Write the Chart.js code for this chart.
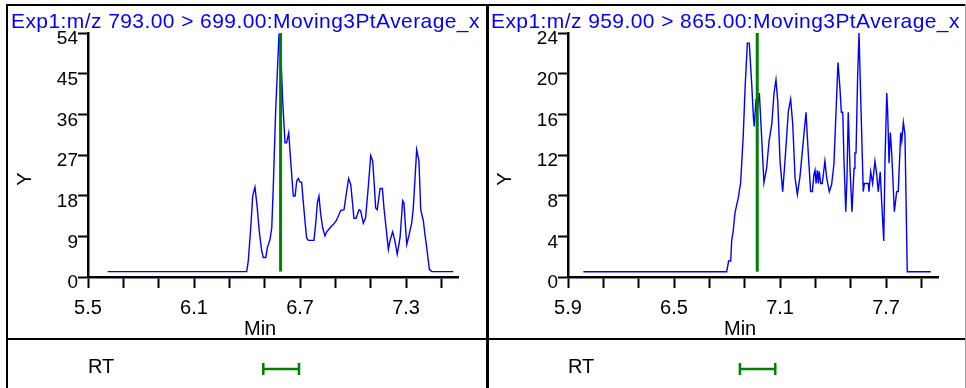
<!DOCTYPE html>
<html><head><meta charset="utf-8">
<script src="https://cdn.jsdelivr.net/npm/chart.js@4/dist/chart.umd.min.js"></script>
<style>
html,body{margin:0;padding:0;background:#fff}
body{width:966px;height:388px;position:relative;overflow:hidden;font-family:"Liberation Sans",Arial,sans-serif}
canvas{position:absolute;top:0;z-index:1}
.ln{position:absolute;background:#000;z-index:3}
.txt{position:absolute;white-space:nowrap;z-index:2;color:#000}
.title{color:#0000ff;font-size:21px;line-height:24px;top:9px;letter-spacing:0.42px}
.min{font-size:20px;line-height:24px;top:316px}
.rt{font-size:20px;line-height:24px;top:354px}
.ylab{font-size:20px;line-height:20px;width:20px;height:20px;text-align:center;top:169px;transform:rotate(-90deg)}
</style>
</head><body>
<canvas id="c1" width="486" height="388" style="left:0px"></canvas>
<canvas id="c2" width="486" height="388" style="left:480px"></canvas>

<div class="txt title" id="t1" style="left:11px"></div>
<div class="txt title" id="t2" style="left:491px"></div>
<div class="txt ylab" style="left:14px">Y</div>
<div class="txt ylab" style="left:494px">Y</div>
<div class="txt min" style="left:244px">Min</div>
<div class="txt min" style="left:724px">Min</div>
<div class="txt rt" style="left:88px">RT</div>
<div class="txt rt" style="left:568px">RT</div>

<div class="ln" style="left:6px;top:4px;width:960px;height:2px"></div>
<div class="ln" style="left:6px;top:4px;width:2px;height:384px"></div>
<div class="ln" style="left:486px;top:4px;width:3px;height:384px"></div>
<div class="ln" style="left:6px;top:338px;width:960px;height:2px"></div>
<div class="ln" style="left:965px;top:4px;width:1px;height:384px;background:#999"></div>

<script>
// ---- data ----
const panelTitles = [
  "Exp1:m/z 793.00 > 699.00:Moving3PtAverage_x",
  "Exp1:m/z 959.00 > 865.00:Moving3PtAverage_x"
];

const leftTimes = [5.611,6.398,6.407,6.421,6.432,6.445,6.458,6.469,6.483,6.492,6.506,6.515,6.530,6.540,6.549,6.562,6.581,6.590,6.602,6.615,6.624,6.636,6.647,6.662,6.672,6.681,6.690,6.700,6.709,6.718,6.728,6.737,6.747,6.779,6.790,6.798,6.807,6.817,6.828,6.841,6.851,6.870,6.888,6.904,6.917,6.930,6.949,6.964,6.975,6.987,6.996,7.005,7.017,7.034,7.043,7.058,7.071,7.086,7.100,7.111,7.120,7.128,7.137,7.153,7.166,7.175,7.185,7.200,7.209,7.224,7.237,7.250,7.266,7.281,7.288,7.296,7.304,7.317,7.332,7.341,7.351,7.360,7.373,7.383,7.398,7.407,7.417,7.432,7.445,7.567];
const leftValues = [1.2,1.2,3.5,10.9,17.9,19.9,15.3,10.2,5.8,4.3,4.3,6.5,8.3,10.9,20.5,36.7,53.8,50.7,38.9,29.7,29.7,31.9,25.7,17.9,17.9,21.2,21.8,21.0,21.0,16.8,12.4,8.7,8.1,8.1,12.4,16.4,17.9,13.9,10.9,9.1,10.0,10.9,11.6,12.4,13.5,14.7,14.9,19.0,21.8,20.5,16.8,13.0,13.0,14.9,14.7,11.9,13.1,19.8,26.9,25.7,20.5,15.3,14.9,19.6,19.6,15.3,11.6,6.1,8.0,10.0,8.0,5.0,8.7,16.9,16.4,11.6,7.2,9.3,12.0,15.3,22.0,28.2,25.7,14.9,12.4,9.4,6.5,1.7,1.2,1.2];

const rightTimes = [5.987,6.798,6.809,6.821,6.826,6.835,6.845,6.864,6.877,6.892,6.903,6.915,6.926,6.940,6.949,6.954,6.964,6.971,6.983,6.996,7.009,7.024,7.038,7.053,7.066,7.077,7.087,7.100,7.115,7.128,7.147,7.160,7.172,7.185,7.198,7.213,7.228,7.247,7.260,7.273,7.283,7.292,7.298,7.304,7.311,7.317,7.322,7.330,7.339,7.354,7.364,7.379,7.392,7.405,7.417,7.428,7.439,7.447,7.455,7.462,7.472,7.479,7.486,7.496,7.507,7.519,7.524,7.530,7.539,7.547,7.556,7.571,7.577,7.600,7.603,7.613,7.624,7.637,7.647,7.656,7.667,7.675,7.687,7.694,7.704,7.709,7.717,7.724,7.732,7.747,7.760,7.769,7.783,7.789,7.798,7.807,7.820,7.953];
const rightValues = [0.52,0.52,1.57,1.57,3.54,4.52,6.32,7.8,9.27,14.0,18.9,23.0,23.0,18.9,15.8,14.8,17.5,16.3,18.1,13.7,9.27,10.7,13.4,15.0,18.1,19.4,17.3,11.4,8.4,11.4,16.3,17.5,15.0,9.76,8.12,9.9,12.7,16.2,12.1,8.4,8.4,10.1,10.5,9.2,10.5,9.2,10.4,9.2,9.2,11.4,9.76,8.4,9.1,11.1,16.3,21.1,18.6,16.2,16.2,11.4,6.42,9.76,16.2,10.7,6.42,10.7,12.2,12.2,19.6,24.0,18.0,8.4,9.2,9.2,8.4,10.35,9.2,11.4,10.1,8.4,10.35,7.47,3.54,11.4,18.1,16.3,11.2,14.2,12.2,6.42,8.4,8.4,14.2,13.4,15.2,14.0,0.52,0.52];

const leftXTicks = [5.5,5.7,5.9,6.1,6.3,6.5,6.7,6.9,7.1,7.3,7.5];
const leftXTickLabels = ["5.5","","","6.1","","","6.7","","","7.3",""];
const rightXTicks = [5.9,6.1,6.3,6.5,6.7,6.9,7.1,7.3,7.5,7.7,7.9];
const rightXTickLabels = ["5.9","","","6.5","","","7.1","","","7.7",""];
const xRanges = [[5.5,7.594],[5.9,7.994]];

const leftYTicks = [0,9,18,27,36,45,54];
const leftYTickLabels = ["0","9","18","27","36","45","54"];
const rightYTicks = [0,4,8,12,16,20,24];
const rightYTickLabels = ["0","4","8","12","16","20","24"];

const rtTimes = [6.590,6.971];       // retention time marker (green line)
const rtMarkerBottom = [1.2,0.52];   // marker starts at the baseline
const rtWindowLow = [6.492,6.873];
const rtWindowHigh = [6.694,7.073];

// ---- drawing ----
const FONT = '"Liberation Sans", Arial, sans-serif';
document.getElementById('t1').textContent = panelTitles[0];
document.getElementById('t2').textContent = panelTitles[1];

const rtPlugin = {
  id: 'rtRow',
  afterDraw(chart, args, opts) {
    const xs = chart.scales.x, c = chart.ctx;
    const x1 = xs.getPixelForValue(opts.lo), x2 = xs.getPixelForValue(opts.hi);
    const y = opts.y;
    c.save();
    c.strokeStyle = '#008000';
    c.lineWidth = 2.5;
    c.beginPath();
    c.moveTo(x1, y); c.lineTo(x2, y);
    c.moveTo(x1, y - 6); c.lineTo(x1, y + 6);
    c.moveTo(x2, y - 6); c.lineTo(x2, y + 6);
    c.stroke();
    c.restore();
  }
};

function makeChart(id, p) {
  return new Chart(document.getElementById(id), {
    type: 'line',
    data: {
      datasets: [
        { data: p.times.map((t, i) => ({ x: t, y: p.values[i] })),
          borderColor: '#0000ff', borderWidth: 1.4, pointRadius: 0, tension: 0, fill: false, order: 2 },
        { data: [{ x: p.rt, y: p.rtBottom }, { x: p.rt, y: p.yTicks[p.yTicks.length - 1] }],
          borderColor: '#008000', borderWidth: 3, pointRadius: 0, fill: false, order: 1 }
      ]
    },
    options: {
      animation: false, responsive: false, devicePixelRatio: 1,
      layout: { padding: { top: 33, left: 0, right: 28, bottom: 0 } },
      plugins: { legend: { display: false }, tooltip: { enabled: false }, title: { display: false },
                 rtRow: { lo: p.rtLo, hi: p.rtHi, y: 369 } },
      scales: {
        x: {
          type: 'linear', min: p.xRange[0], max: p.xRange[1],
          afterBuildTicks: s => { s.ticks = p.xTicks.map(v => ({ value: v })); },
          afterFit: s => { s.height = 111; s.paddingLeft = 0; s.paddingRight = 0; },
          ticks: { autoSkip: false, maxRotation: 0, minRotation: 0, padding: 8, color: '#000',
                   font: { family: FONT, size: 20 }, callback: (v, i) => p.xLabels[i] },
          grid: { drawOnChartArea: false, drawTicks: true, tickLength: 11, tickColor: '#000', tickWidth: 2 },
          border: { display: true, color: '#000', width: 2.5 }
        },
        y: {
          type: 'linear', min: p.yTicks[0], max: p.yTicks[p.yTicks.length - 1],
          afterBuildTicks: s => { s.ticks = p.yTicks.map(v => ({ value: v })); },
          afterFit: s => { s.width = 88; s.paddingTop = 0; s.paddingBottom = 0; },
          ticks: { padding: 0, labelOffset: 6, color: '#000', font: { family: FONT, size: 19 },
                   callback: (v, i) => p.yLabels[i] },
          grid: { drawOnChartArea: false, drawTicks: true, tickLength: 10, tickColor: '#000', tickWidth: 2 },
          border: { display: true, color: '#000', width: 2.5 }
        }
      }
    },
    plugins: [rtPlugin]
  });
}

makeChart('c1', { times: leftTimes, values: leftValues, xRange: xRanges[0], xTicks: leftXTicks, xLabels: leftXTickLabels,
  yTicks: leftYTicks, yLabels: leftYTickLabels, rt: rtTimes[0], rtBottom: rtMarkerBottom[0], rtLo: rtWindowLow[0], rtHi: rtWindowHigh[0] });
makeChart('c2', { times: rightTimes, values: rightValues, xRange: xRanges[1], xTicks: rightXTicks, xLabels: rightXTickLabels,
  yTicks: rightYTicks, yLabels: rightYTickLabels, rt: rtTimes[1], rtBottom: rtMarkerBottom[1], rtLo: rtWindowLow[1], rtHi: rtWindowHigh[1] });
</script>
</body></html>
